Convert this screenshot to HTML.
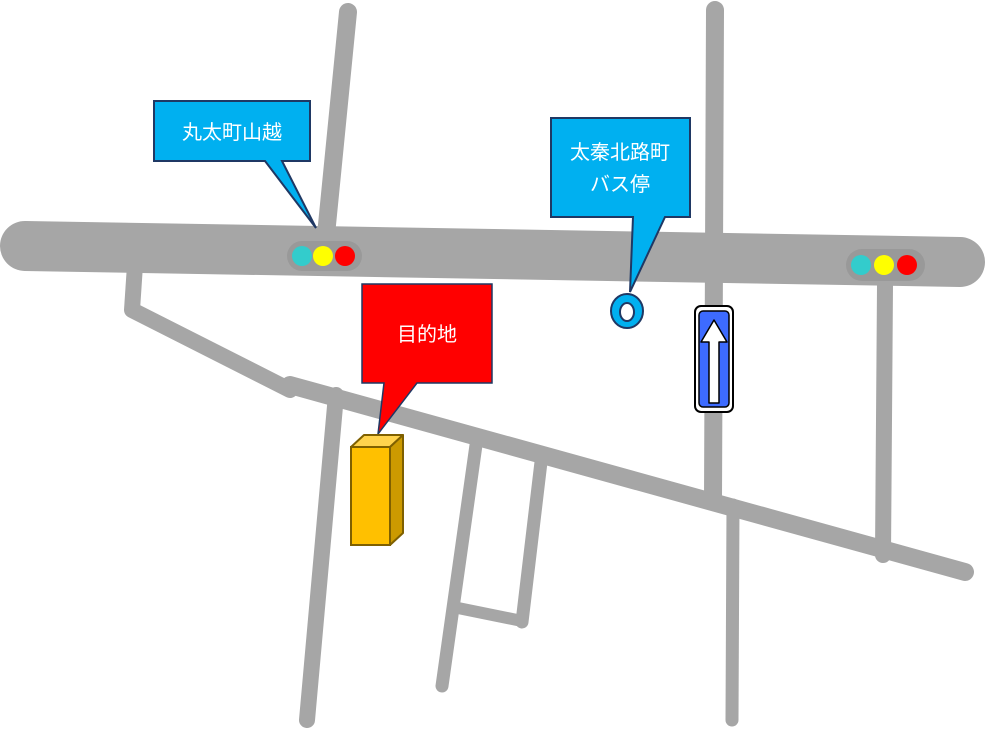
<!DOCTYPE html>
<html><head><meta charset="utf-8"><style>
html,body{margin:0;padding:0;background:#fff;}
svg{display:block}
text{font-family:"Liberation Sans","Noto Sans CJK JP",sans-serif;fill:#fff;}
</style></head><body>
<svg width="985" height="731" viewBox="0 0 985 731" xmlns="http://www.w3.org/2000/svg">
<g stroke="#a6a6a6" stroke-linecap="round" fill="none" stroke-linejoin="round">
  <line x1="348" y1="12" x2="325" y2="245" stroke-width="18"/>
  <line x1="715" y1="10" x2="713" y2="500" stroke-width="18"/>
  <line x1="733" y1="505" x2="732" y2="720" stroke-width="13"/>
  <line x1="885" y1="285" x2="883" y2="555" stroke-width="16"/>
  <polyline points="135,265 132,310 290,390" stroke-width="16"/>
  <line x1="290" y1="385" x2="965" y2="572" stroke-width="18"/>
  <line x1="336" y1="395" x2="307" y2="720" stroke-width="16"/>
  <line x1="476" y1="445" x2="442" y2="686" stroke-width="13"/>
  <line x1="541" y1="462" x2="522" y2="622" stroke-width="13"/>
  <line x1="458" y1="608" x2="522" y2="621" stroke-width="12"/>
  <line x1="25" y1="246" x2="960" y2="262" stroke-width="50"/>
</g>
<rect x="287" y="241" width="75" height="30" rx="15" fill="#999"/>
<circle cx="302" cy="256" r="10" fill="#33cccc"/>
<circle cx="323" cy="256" r="10" fill="#ffff00"/>
<circle cx="345" cy="256" r="10" fill="#ff0000"/>
<rect x="846" y="249" width="79" height="32" rx="16" fill="#999"/>
<circle cx="861" cy="265" r="10" fill="#33cccc"/>
<circle cx="884" cy="265" r="10" fill="#ffff00"/>
<circle cx="907" cy="265" r="10" fill="#ff0000"/>
<path d="M154,101 H310 V161 H282 L316,228 L265,161 H154 Z" fill="#00b0f0" stroke="#1f3864" stroke-width="2"/>
<text x="232" y="139" font-size="20" text-anchor="middle">丸太町山越</text>
<path d="M551,118 H690 V217 H665 L630,292 L633,217 H551 Z" fill="#00b0f0" stroke="#1f3864" stroke-width="2"/>
<text x="620" y="159" font-size="20" text-anchor="middle">太秦北路町</text>
<text x="620" y="191" font-size="20" text-anchor="middle">バス停</text>
<ellipse cx="627" cy="311" rx="16" ry="17" fill="#00b0f0" stroke="#1f3864" stroke-width="2"/>
<ellipse cx="627" cy="312" rx="7" ry="9" fill="#fff" stroke="#1f3864" stroke-width="2"/>
<path d="M362,284 H492 V383 H417 L378,434 L384,383 H362 Z" fill="#ff0000" stroke="#1f3864" stroke-width="1.5"/>
<text x="427" y="341" font-size="20" text-anchor="middle">目的地</text>
<polygon points="351,447 364,435 403,435 390,447" fill="#ffd34d" stroke="#7f6000" stroke-width="2" stroke-linejoin="round"/>
<polygon points="390,447 403,435 403,533 390,545" fill="#cc9a00" stroke="#7f6000" stroke-width="2" stroke-linejoin="round"/>
<rect x="351" y="447" width="39" height="98" fill="#ffc000" stroke="#7f6000" stroke-width="2"/>
<rect x="695" y="306" width="38" height="106" rx="6" fill="#fff" stroke="#000" stroke-width="2"/>
<rect x="699" y="311" width="30" height="96" rx="4" fill="#3d6bff" stroke="#000" stroke-width="1.5"/>
<polygon points="714,320 727,342 719,342 719,403 709,403 709,342 701,342" fill="#fff" stroke="#000" stroke-width="1.5" stroke-linejoin="round"/>
</svg>
</body></html>
